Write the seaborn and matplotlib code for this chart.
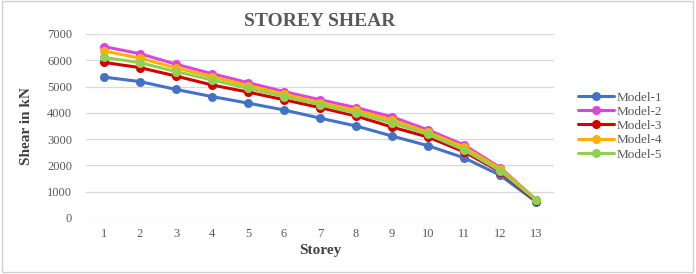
import matplotlib
matplotlib.use("Agg")
import matplotlib.pyplot as plt
import seaborn as sns
import pandas as pd
from matplotlib.patches import Rectangle

storeys = list(range(1, 14))
model_1 = [5360, 5190, 4890, 4620, 4370, 4110, 3800, 3500, 3120, 2750, 2290, 1630, 620]
model_2 = [6520, 6250, 5850, 5490, 5150, 4810, 4500, 4200, 3850, 3350, 2780, 1920, 700]
model_3 = [5920, 5720, 5400, 5060, 4790, 4500, 4200, 3880, 3460, 3080, 2520, 1760, 640]
model_4 = [6350, 6080, 5710, 5370, 5040, 4710, 4390, 4090, 3730, 3260, 2700, 1880, 700]
model_5 = [6110, 5910, 5570, 5250, 4930, 4620, 4310, 3980, 3620, 3180, 2590, 1800, 690]
series_names = ["Model-1", "Model-2", "Model-3", "Model-4", "Model-5"]
colors = ["#4472C4", "#DD44DD", "#D00000", "#FFB000", "#92D050"]

rows = []
for name, vals in zip(series_names, [model_1, model_2, model_3, model_4, model_5]):
    for s, v in zip(storeys, vals):
        rows.append({"Storey": s, "Shear": v, "Model": name})
df = pd.DataFrame(rows)

sns.set_style("white")
plt.rcParams["font.family"] = ["Liberation Serif", "DejaVu Serif"]

fig = plt.figure(figsize=(6.96, 2.74), dpi=100)
ax = fig.add_axes([86 / 696, 1 - 218 / 274, (554 - 86) / 696, (218 - 34) / 274])

sns.lineplot(data=df, x="Storey", y="Shear", hue="Model", hue_order=series_names,
             palette=colors, marker="o", markersize=6.5, linewidth=2.2,
             markeredgewidth=0, ax=ax, legend=True)

ax.set_xlim(0.5, 13.5)
ax.set_ylim(0, 7000)
ax.set_xticks(storeys)
ax.set_yticks(range(0, 7001, 1000))
ax.grid(axis="y", color="#D9D9D9", linewidth=0.9)
ax.grid(axis="x", visible=False)
ax.set_axisbelow(True)
for sp in ax.spines.values():
    sp.set_visible(False)
ax.tick_params(axis="both", length=0, labelsize=9, labelcolor="#595959")
ax.tick_params(axis="y", pad=10)
ax.tick_params(axis="x", pad=7)

ax.set_xlabel("Storey", fontsize=11, fontweight="bold", color="#404040", labelpad=3)
ax.set_ylabel("Shear in kN", fontsize=11, fontweight="bold", color="#404040", labelpad=10)
ax.set_title("STOREY SHEAR", fontsize=14, fontweight="bold", color="#595959", pad=6)

handles, labels = ax.get_legend_handles_labels()
leg = ax.legend(handles, labels, loc="center left", bbox_to_anchor=(566 / 696, 1 - 126 / 274),
                bbox_transform=fig.transFigure, frameon=False, fontsize=9.5,
                handlelength=2.7, handletextpad=0.2, labelspacing=0.15, labelcolor="#595959")

fig.patches.append(Rectangle((0.003, 0.006), 0.992, 0.99, transform=fig.transFigure,
                             fill=False, edgecolor="#D0D0D0", linewidth=1))

fig.savefig("out.png", dpi=100)
